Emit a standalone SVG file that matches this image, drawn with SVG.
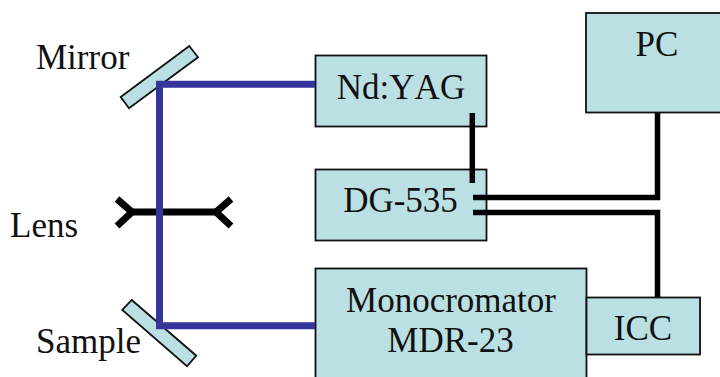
<svg xmlns="http://www.w3.org/2000/svg" width="720" height="377" viewBox="0 0 720 377">
<style>
.box{fill:#bae0e3;stroke:#111;stroke-width:1.8}
.t{font-family:"Liberation Serif","Times New Roman",serif;font-size:35px;fill:#111;font-kerning:none}
.m{text-anchor:middle}
.k{fill:none;stroke:#000;stroke-width:5.5}
.b{fill:none;stroke:#36359b;stroke-width:7}
.l{fill:none;stroke:#000;stroke-width:7}
</style>
<rect width="720" height="377" fill="#fff"/>
<g id="mirror"><polygon class="box" points="189.3,46 198,57.3 129,108.3 120.7,97"/><text class="t" x="36" y="69">Mirror</text></g>
<g id="sample"><polygon class="box" points="131.7,300 196.3,355.7 187,366.3 122.3,310"/><text class="t" x="36" y="353">Sample</text></g>
<g id="lens"><path class="l" d="M117 199L132 212L117 226M231 199L216 212L231 226"/><text class="t" x="10" y="236.500">Lens</text></g>
<g id="ndyag"><rect class="box" x="315.500" y="55.500" width="171" height="71"/><text class="t m" x="401" y="99">Nd:YAG</text></g>
<g id="dg535"><rect class="box" x="315.500" y="169.500" width="171" height="71"/><text class="t m" x="400.500" y="212">DG-535</text></g>
<g id="mono"><rect class="box" x="315.500" y="268.500" width="271" height="120"/><text class="t m" x="451" y="311.500">Monocromator</text><text class="t m" x="450.500" y="351.500">MDR-23</text></g>
<g id="pc"><rect class="box" x="586" y="13" width="150" height="99.500"/><text class="t m" x="657" y="55.500">PC</text></g>
<g id="icc"><rect class="box" x="586.500" y="297.500" width="113.500" height="57"/><text class="t m" x="643" y="339.500">ICC</text></g>
<g id="connectors">
<path class="l" d="M132 212H216"/>
<path class="b" d="M315 84.300H159.500V325.700H315"/>
<path class="k" d="M472.300 113V183M473 197.500H657.500V113M473 212.500H657.500V297"/>
</g>
</svg>
